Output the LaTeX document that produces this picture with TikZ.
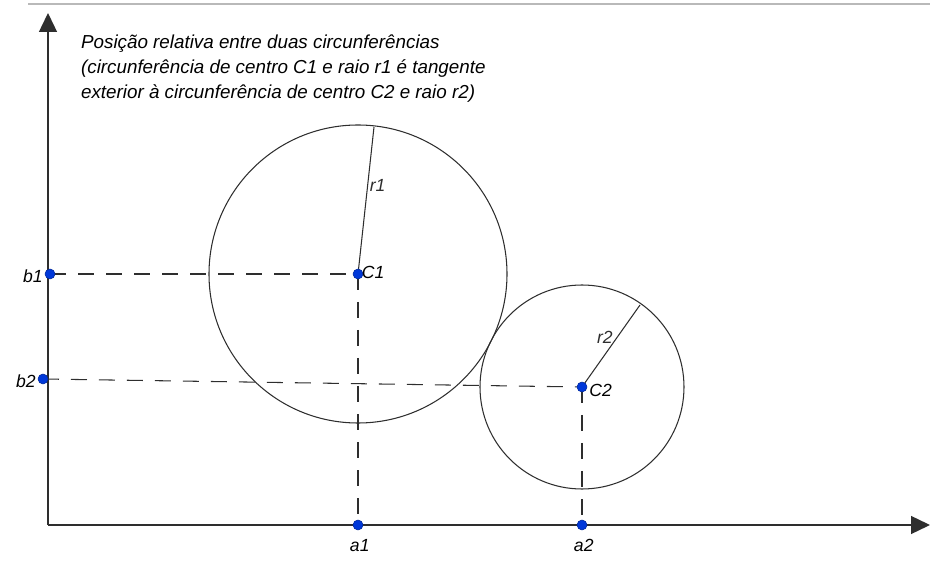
\documentclass[tikz,border=0pt]{standalone}
\usepackage{fontspec}
\setmainfont{Liberation Sans}
\usetikzlibrary{arrows.meta}
\definecolor{ptblue}{rgb}{0,0.22,0.85}
\definecolor{linegray}{gray}{0.18}

\begin{document}
\begin{tikzpicture}[x=0.2mm, y=-0.2mm, >={Triangle[length=3.8mm,width=3.6mm]},
  guide/.style={linegray, dash pattern=on 3.2mm off 2.4mm, line width=0.6pt},
  pt/.style={circle, fill=ptblue, draw=ptblue!70!black, line width=0.3pt, inner sep=0pt, minimum size=2mm},
  lbl/.style={font=\fontsize{10}{14}\selectfont\itshape, inner sep=1pt}]
  \useasboundingbox (0,0) rectangle (930,561);
  % screenshot border line
  \draw[gray!55, line width=0.7pt] (28,4) -- (930,4);
  % axes
  \coordinate (O) at (48,525);
  \coordinate (Ytip) at (48,13); \coordinate (Xtip) at (930,525);
  \draw[linegray, line width=0.8pt, ->] (O)--(Ytip);
  \draw[linegray, line width=0.8pt, ->] (O)--(Xtip);
  % title text
  \node[lbl, font=\fontsize{10.7}{14.2}\selectfont\itshape, anchor=north west, align=left] (title) at (79,33)
    {Posição relativa entre duas circunferências\\
     (circunferência de centro C1 e raio r1 é tangente\\
     exterior à circunferência de centro C2 e raio r2)};
  % centres and their projections
  \coordinate (C1) at (358,274); \coordinate (C2) at (582,387);
  \coordinate (b1) at (50,274); \coordinate (b2) at (43,379);
  \coordinate (a1) at (358,525); \coordinate (a2) at (582,525);
  \coordinate (R1) at (374,127); \coordinate (R2) at (640,305);
  % circles
  \draw[linegray, line width=0.6pt] (C1) circle (2.98cm);
  \draw[linegray, line width=0.6pt] (C2) circle (2.04cm);
  \draw[linegray, line width=0.6pt] (C1)--(R1) node[lbl, pos=0.6, right] (r1) {r1};
  \draw[linegray, line width=0.6pt] (C2)--(R2) node[lbl, pos=0.6, left, xshift=-1pt] (r2) {r2};
  % dashed guides
  \draw[guide] (b1)--(C1);
  \draw[guide] (C1)--(a1);
  \draw[guide] (b2)--(C2);
  \draw[guide] (C2)--(a2);
  % points
  \node[pt, label={[lbl, anchor=west, xshift=-2pt, yshift=1pt]right:C1}] (pC1) at (C1) {};
  \node[pt, label={[lbl, anchor=north west, xshift=0pt, yshift=3pt]east:C2}] (pC2) at (C2) {};
  \node[pt, label={[lbl, yshift=-1pt]left:b1}] (pb1) at (b1) {};
  \node[pt, label={[lbl, yshift=-1pt]left:b2}] (pb2) at (b2) {};
  \node[pt, label={[lbl, yshift=-4pt, xshift=1pt]below:a1}] (pa1) at (a1) {};
  \node[pt, label={[lbl, yshift=-4pt, xshift=1pt]below:a2}] (pa2) at (a2) {};
\end{tikzpicture}
\end{document}
